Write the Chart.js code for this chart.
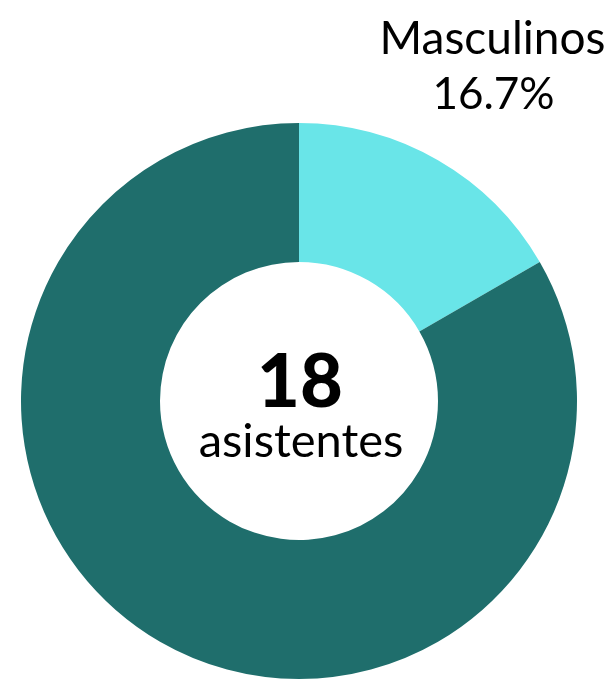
<!DOCTYPE html>
<html>
<head>
<meta charset="utf-8">
<script src="https://cdn.jsdelivr.net/npm/chart.js@4.4.1/dist/chart.umd.min.js"></script>
<style>
html,body{margin:0;padding:0;background:#fff;}
#wrap{width:612px;height:679px;position:relative;}
</style>
</head>
<body>
<div id="wrap"><canvas id="c" width="612" height="679"></canvas></div>
<script>
const categories = ["Masculinos", "Femeninos"];
const counts = [3, 15];
const colors = ["#69E5E8", "#1F6E6C"];
const shownLabels = [true, false];
const centerNumber = "18";
const centerText = "asistentes";

const total = counts.reduce((a, b) => a + b, 0);

const labelPlugin = {
  id: 'labels',
  afterDraw(chart) {
    const ctx = chart.ctx;
    const meta = chart.getDatasetMeta(0);
    ctx.save();
    ctx.fillStyle = '#000';
    ctx.textAlign = 'center';
    ctx.textBaseline = 'alphabetic';
    meta.data.forEach((arc, i) => {
      if (!shownLabels[i]) return;
      const p = arc.getProps(['x','y','startAngle','endAngle','outerRadius'], true);
      const mid = (p.startAngle + p.endAngle) / 2;
      const r = p.outerRadius + 109;
      const ax = p.x + Math.cos(mid) * r;
      const ay = p.y + Math.sin(mid) * r;
      ctx.font = '400 46px Lato';
      ctx.fillText(categories[i], ax, ay - 12);
      const pct = (counts[i] / total * 100).toFixed(1) + '%';
      ctx.font = '400 44px Lato';
      ctx.fillText(pct, ax + 1, ay + 43);
    });
    // center text
    const a0 = meta.data[0];
    const cx = a0.x, cy = a0.y;
    ctx.font = '900 74px Lato';
    ctx.fillText(centerNumber, cx + 1, cy + 6);
    ctx.font = '400 47px Lato';
    ctx.fillText(centerText, cx + 2, cy + 56);
    ctx.restore();
  }
};

new Chart(document.getElementById('c'), {
  type: 'doughnut',
  data: {
    labels: categories,
    datasets: [{
      data: counts,
      backgroundColor: colors,
      borderWidth: 0,
      hoverOffset: 0
    }]
  },
  options: {
    responsive: false,
    animation: false,
    cutout: '50%',
    layout: { padding: { top: 123, left: 20, right: 34, bottom: -2 } },
    plugins: { legend: { display: false }, tooltip: { enabled: false } }
  },
  plugins: [labelPlugin]
});
</script>
</body>
</html>
